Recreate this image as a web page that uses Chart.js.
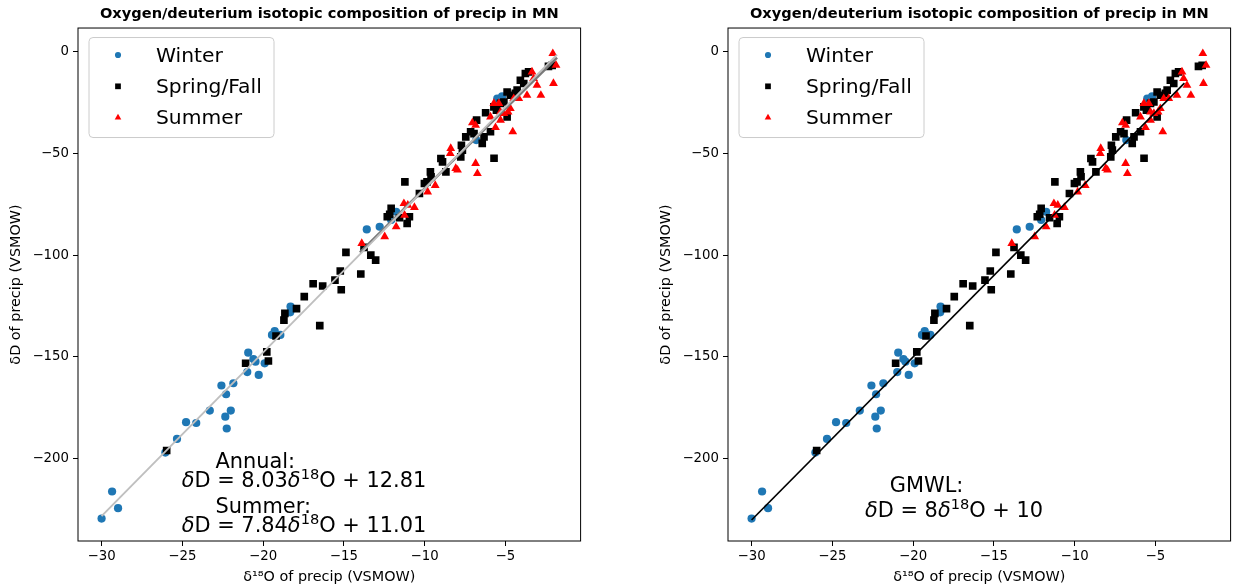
<!DOCTYPE html>
<html lang="en">
<head>
<meta charset="UTF-8" />
<title>Isotopic composition of precip in MN</title>
<script src="https://cdn.jsdelivr.net/npm/chart.js"></script>
<style>
  body { margin: 0; background: #fff; width: 1236px; height: 587px; overflow: hidden; position: relative; }
  .panel { position: absolute; top: 0; width: 586px; height: 587px; }
  #left { left: 0; }
  #right { left: 650px; }
</style>
</head>
<body>
<div class="panel" id="left"><canvas id="chartAnnual" width="586" height="587"></canvas></div>
<div class="panel" id="right"><canvas id="chartGmwl" width="586" height="587"></canvas></div>

<script>
// δ18O / δD samples (per mil, VSMOW), grouped by season
const winterO = [-30.0, -29.35, -28.98, -26.05, -25.33, -24.77, -24.14, -23.3, -22.58, -22.29, -21.84, -22.34,
  -22.0, -22.25, -20.92, -20.98, -20.47, -20.27, -20.6, -19.9, -19.45, -19.28, -18.93, -18.3, -18.32,
  -13.58, -12.78, -12.07, -11.76, -6.8, -5.5, -5.2];
const winterD = [-229.3, -216, -224.2, -196.9, -190.2, -182, -182.4, -176.3, -164, -168.3, -162.9, -179.3,
  -176.3, -185.1, -147.9, -157.4, -152.3, -158.8, -151.0, -153.1, -139.2, -137.3, -139.2, -125.3, -128.1,
  -87.4, -86.1, -82.8, -78.8, -43.6, -23.2, -22.1];

const springO = [-25.97, -21.08, -19.77, -19.67, -19.2, -18.71, -18.65, -17.93, -17.45, -16.9, -16.31, -16.49,
  -15.16, -15.55, -15.22, -14.87, -13.95, -13.75, -13.33, -13.03, -12.31, -12.07, -12.16, -11.55, -11.08,
  -10.94, -11.22, -10.32, -10.01, -9.85, -9.64, -9.6, -8.99, -8.89, -8.68, -7.76, -7.72, -7.66, -7.45,
  -7.15, -6.94, -6.43, -6.32, -6.78, -6.22, -5.92, -5.71, -5.55, -5.3, -5.09, -4.89, -4.89, -4.69, -4.38,
  -4.27, -4.07, -3.76, -3.86, -3.56, -2.33, -2.1, -5.7];
const springD = [-195.9, -153.1, -147.5, -152, -139.7, -131.9, -128.6, -126.3, -120.4, -114.1, -115.2, -134.6,
  -117, -112.3, -107.8, -98.7, -109.3, -96.2, -100, -102.5, -81.2, -77.1, -80, -81.7, -84.5,
  -81.2, -64.1, -69.8, -64.9, -64.1, -59.2, -61.6, -52.6, -54.3, -59.2, -51.8, -46.1, -48.5, -42,
  -39.5, -40.4, -45.2, -42, -33.8, -30.2, -39.5, -27.3, -28.9, -25.6, -24.9, -32.2, -20, -21.6, -20.7,
  -19.1, -14.2, -10.9, -15.8, -10.1, -7.4, -6.9, -52.5];

const summerO = [-13.89, -12.47, -11.76, -11.24, -11.04, -10.63, -11.28, -9.81, -9.34, -8.41, -8.07, -7.96,
  -6.84, -6.73, -8.38, -7.04, -6.84, -5.92, -5.61, -5.3, -4.54, -5.71, -5.4, -5.09, -4.69, -5.3, -4.83,
  -4.48, -4.17, -3.66, -3.04, -2.8, -2.02, -3.35, -3.25, -2.06, -1.86];
const summerD = [-94.3, -91, -86.1, -80.4, -75.5, -76.6, -74.7, -69, -65.8, -50.2, -57.5, -58.3,
  -55, -60, -47.7, -35.1, -36.3, -32.2, -37.4, -33.8, -39.5, -25.6, -25.6, -30.5, -28.1, -29.8, -29.8,
  -23.2, -23.2, -21.6, -16.7, -21.6, -15.8, -10.1, -13.4, -1.1, -6.9];

const xTicks = [-30, -25, -20, -15, -10, -5];
const yTicks = [0, -50, -100, -150, -200];

// meteoric water lines: δD = slope·δ18O + intercept, drawn over [from, to]
const annualFit = { slope: 8.03, intercept: 12.81, from: -30, to: -1.8 };
const summerFit = { slope: 7.84, intercept: 11.01, from: -14, to: -1.8 };
const gmwlFit = { slope: 8, intercept: 10, from: -30, to: -3.2 };

const FONT = 'DejaVu Sans';
const titleText = 'Oxygen/deuterium isotopic composition of precip in MN';

const toPoints = (xs, ys) => xs.map((x, i) => ({ x: x, y: ys[i] }));
const fitLine = f => [f.from, f.to].map(x => ({ x: x, y: f.slope * x + f.intercept }));
const minus = v => (v < 0 ? '\u2212' + Math.abs(v) : String(v));

const seasons = [
  { label: 'Winter', style: 'circle', color: '#1f77b4', radius: 4.1, o: winterO, d: winterD },
  { label: 'Spring/Fall', style: 'rect', color: '#000000', radius: 5.4, o: springO, d: springD },
  { label: 'Summer', style: 'triangle', color: '#ff0000', radius: 5.1, o: summerO, d: summerD }
];

// equation pieces: [text, kind] where kind r = roman, i = italic, s = superscript
function equation(slope, intercept) {
  return [['\u03b4', 'i'], ['D = ' + slope, 'r'], ['\u03b4', 'i'], ['18', 's'], ['O + ' + intercept, 'r']];
}

function drawRich(ctx, x, y, parts, size) {
  let cx = x;
  parts.forEach(([text, kind]) => {
    let sz = size, dy = 0, style = 'normal';
    if (kind === 'i') style = 'oblique';
    if (kind === 's') { sz = size * 0.7; dy = -size * 0.38; }
    ctx.font = style + ' ' + sz + 'px "' + FONT + '"';
    ctx.fillText(text, cx, y + dy);
    cx += ctx.measureText(text).width;
  });
}

function decor(notes) {
  return {
    id: 'decor',
    afterDatasetsDraw(chart) {
      const { ctx, chartArea: a, scales } = chart;
      ctx.save();
      // axes frame on all four sides
      ctx.strokeStyle = '#000';
      ctx.lineWidth = 1;
      ctx.strokeRect(a.left, a.top, a.right - a.left, a.bottom - a.top);

      // legend box in the upper-left corner
      const bx = a.left + 11, by = a.top + 9.5, bw = 185, bh = 100;
      ctx.beginPath();
      ctx.roundRect(bx, by, bw, bh, 4);
      ctx.fillStyle = 'rgba(255,255,255,0.8)';
      ctx.fill();
      ctx.strokeStyle = '#cccccc';
      ctx.stroke();
      seasons.forEach((s, i) => {
        const rowY = a.top + 33.5 + i * 31.3;
        ctx.fillStyle = s.color;
        Chart.helpers.drawPoint(ctx, { pointStyle: s.style, radius: s.radius * 0.75, rotation: 0, borderWidth: 0 },
          a.left + 40, rowY - 6.5);
        ctx.fillStyle = '#000';
        ctx.font = '20.3px "' + FONT + '"';
        ctx.textBaseline = 'alphabetic';
        ctx.textAlign = 'left';
        ctx.fillText(s.label, a.left + 78, rowY);
      });

      // equation annotations, anchored in data coordinates
      ctx.fillStyle = '#000';
      ctx.textBaseline = 'alphabetic';
      notes.forEach(n => {
        drawRich(ctx, scales.x.getPixelForValue(n.x), scales.y.getPixelForValue(n.y), n.parts, 20.9);
      });
      ctx.restore();
    }
  };
}

const tickFont = { family: FONT, size: 13.3 };
const labelFont = { family: FONT, size: 14.4 };

function makeChart(id, lines, notes) {
  const lineSets = lines.map(l => ({
    type: 'line',
    data: fitLine(l.fit),
    borderColor: l.color,
    borderWidth: l.width,
    pointRadius: 0,
    showLine: true,
    fill: false
  }));
  const pointSets = seasons.slice().reverse().map(s => ({
    label: s.label,
    data: toPoints(s.o, s.d),
    pointStyle: s.style,
    pointRadius: s.radius,
    pointHoverRadius: s.radius,
    backgroundColor: s.color,
    borderWidth: 0
  }));

  return new Chart(document.getElementById(id), {
    type: 'scatter',
    data: { datasets: lineSets.concat(pointSets) },
    options: {
      responsive: false,
      animation: false,
      events: [],
      layout: { padding: { left: 0, right: 2, top: 0, bottom: 0 } },
      plugins: {
        legend: { display: false },
        tooltip: { enabled: false },
        title: {
          display: true,
          fullSize: false,
          text: titleText,
          color: '#000',
          font: { family: FONT, size: 14.6, weight: 'bold' },
          padding: { top: 5, bottom: 5.5 }
        }
      },
      scales: {
        x: {
          type: 'linear',
          min: -31.46,
          max: -0.34,
          afterBuildTicks: s => { s.ticks = xTicks.map(v => ({ value: v })); },
          afterFit: s => { s.height = 46; },
          ticks: { callback: minus, color: '#000', font: tickFont, padding: 3, maxRotation: 0, autoSkip: false },
          grid: { drawOnChartArea: false, drawTicks: true, tickLength: 5, color: '#000' },
          border: { display: false },
          title: { display: true, text: '\u03b4\u00b9\u2078O of precip (VSMOW)', color: '#000', font: labelFont, padding: { top: 0, bottom: 1 } }
        },
        y: {
          type: 'linear',
          min: -240.3,
          max: 11.4,
          afterBuildTicks: s => { s.ticks = yTicks.map(v => ({ value: v })); },
          afterFit: s => { s.width = 78; },
          ticks: { callback: minus, color: '#000', font: tickFont, padding: 4, autoSkip: false },
          grid: { drawOnChartArea: false, drawTicks: true, tickLength: 5, color: '#000' },
          border: { display: false },
          title: { display: true, text: '\u03b4D of precip (VSMOW)', color: '#000', font: labelFont, padding: { top: 8, bottom: 0 } }
        }
      }
    },
    plugins: [decor(notes)]
  });
}

makeChart('chartAnnual',
  [
    { fit: annualFit, color: '#bfbfbf', width: 1.9 },
    { fit: summerFit, color: '#7a7a7a', width: 2.6 }
  ],
  [
    { x: -22.95, y: -204.4, parts: [['Annual:', 'r']] },
    { x: -25.04, y: -213.6, parts: equation('8.03', '12.81') },
    { x: -22.94, y: -226.6, parts: [['Summer:', 'r']] },
    { x: -25.04, y: -236.1, parts: equation('7.84', '11.01') }
  ]);

makeChart('chartGmwl',
  [{ fit: gmwlFit, color: '#000000', width: 1.7 }],
  [
    { x: -21.44, y: -216.2, parts: [['GMWL:', 'r']] },
    { x: -22.98, y: -228.5, parts: equation('8', '10') }
  ]);
</script>
</body>
</html>
